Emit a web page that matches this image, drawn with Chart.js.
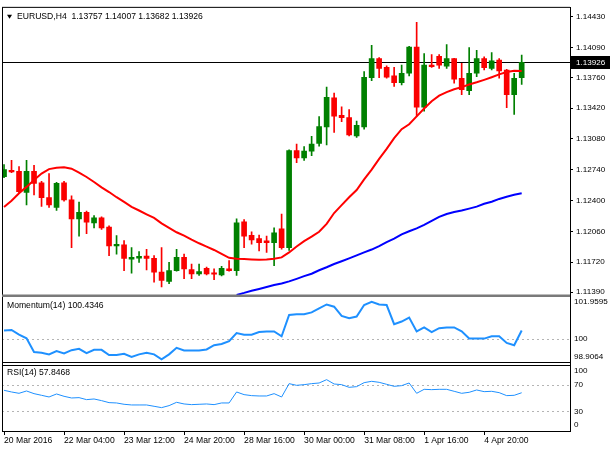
<!DOCTYPE html>
<html>
<head>
<meta charset="utf-8">
<title>EURUSD H4</title>
<script src="https://cdn.jsdelivr.net/npm/chart.js"></script>
<style>
  html, body { margin: 0; padding: 0; background: #fff; }
  #wrap { position: relative; width: 610px; height: 450px; }
</style>
</head>
<body>
<div id="wrap"><canvas id="chart" width="610" height="450"></canvas></div>
<script>
// EURUSD H4 candles
const symbol = 'EURUSD,H4';

const opens = [
  1.12665, 1.12734, 1.12723, 1.12491, 1.12723, 1.12597, 1.12433, 1.12324, 1.12597, 1.12407,
  1.12197, 1.12270, 1.12153, 1.12208, 1.12106, 1.11900, 1.11910, 1.11754, 1.11764, 1.11786,
  1.11761, 1.11609, 1.11507, 1.11627, 1.11772, 1.11638, 1.11590, 1.11652, 1.11601, 1.11579,
  1.11645, 1.11627, 1.12164, 1.12015, 1.11979, 1.11954, 1.11935, 1.12088, 1.11881, 1.12952,
  1.12872, 1.12945, 1.13032, 1.13213, 1.13534, 1.13341, 1.13316, 1.13115, 1.13213, 1.13758,
  1.13969, 1.13871, 1.13776, 1.13703, 1.13806, 1.14096, 1.13431, 1.13896, 1.13994, 1.13885,
  1.13969, 1.13751, 1.13613, 1.13806, 1.13969, 1.13860, 1.13951, 1.13842, 1.13569, 1.13757
];
const highs = [
  1.12796, 1.12843, 1.12774, 1.12843, 1.12788, 1.12611, 1.12698, 1.12600, 1.12611, 1.12451,
  1.12382, 1.12284, 1.12233, 1.12219, 1.12121, 1.12012, 1.11957, 1.11881, 1.11837, 1.11862,
  1.11791, 1.11881, 1.11718, 1.11862, 1.11808, 1.11699, 1.11699, 1.11666, 1.11645, 1.11674,
  1.11736, 1.12197, 1.12189, 1.12055, 1.12019, 1.12008, 1.12099, 1.12251, 1.12959, 1.13025,
  1.12995, 1.13109, 1.13327, 1.13653, 1.13588, 1.13436, 1.13406, 1.13279, 1.13823, 1.14114,
  1.13980, 1.13889, 1.13871, 1.13896, 1.14103, 1.14368, 1.14024, 1.14013, 1.14013, 1.14122,
  1.13972, 1.13915, 1.14089, 1.14060, 1.13987, 1.14035, 1.13969, 1.13850, 1.13806, 1.14007
];
const lows = [
  1.12654, 1.12709, 1.12480, 1.12353, 1.12462, 1.12335, 1.12324, 1.12292, 1.12393, 1.11881,
  1.12008, 1.12034, 1.12099, 1.12080, 1.11791, 1.11808, 1.11627, 1.11598, 1.11718, 1.11634,
  1.11500, 1.11445, 1.11481, 1.11620, 1.11536, 1.11536, 1.11573, 1.11579, 1.11525, 1.11568,
  1.11620, 1.11573, 1.11881, 1.11917, 1.11845, 1.11826, 1.11682, 1.11862, 1.11848, 1.12818,
  1.12843, 1.12897, 1.13000, 1.13014, 1.13152, 1.13272, 1.13115, 1.13098, 1.13188, 1.13725,
  1.13758, 1.13751, 1.13660, 1.13678, 1.13776, 1.13333, 1.13388, 1.13870, 1.13860, 1.13860,
  1.13697, 1.13569, 1.13569, 1.13769, 1.13842, 1.13842, 1.13751, 1.13425, 1.13352, 1.13682
];
const closes = [
  1.12742, 1.12717, 1.12499, 1.12723, 1.12589, 1.12433, 1.12353, 1.12589, 1.12407, 1.12197,
  1.12270, 1.12161, 1.12208, 1.12099, 1.11900, 1.11917, 1.11761, 1.11772, 1.11783, 1.11761,
  1.11609, 1.11518, 1.11627, 1.11772, 1.11645, 1.11590, 1.11616, 1.11590, 1.11587, 1.11652,
  1.11627, 1.12153, 1.12008, 1.11965, 1.11935, 1.11935, 1.12044, 1.11881, 1.12952, 1.12872,
  1.12945, 1.13025, 1.13218, 1.13540, 1.13333, 1.13316, 1.13126, 1.13232, 1.13762, 1.13969,
  1.13860, 1.13762, 1.13703, 1.13806, 1.14096, 1.13431, 1.13896, 1.13878, 1.13896, 1.13969,
  1.13740, 1.13624, 1.13806, 1.13969, 1.13867, 1.13943, 1.13831, 1.13569, 1.13751, 1.13926
];

// moving averages (red fast, blue slow)
const maFast = [
  1.12328, 1.12398, 1.12480, 1.12551, 1.12627, 1.12698, 1.12747, 1.12763, 1.12767, 1.12752,
  1.12709, 1.12660, 1.12605, 1.12546, 1.12494, 1.12437, 1.12385, 1.12331, 1.12290, 1.12248,
  1.12208, 1.12148, 1.12099, 1.12050, 1.12012, 1.11968, 1.11928, 1.11892, 1.11854, 1.11810,
  1.11767, 1.11758, 1.11754, 1.11750, 1.11747, 1.11750, 1.11758, 1.11772, 1.11827, 1.11892,
  1.11952, 1.12001, 1.12055, 1.12142, 1.12262, 1.12349, 1.12437, 1.12516, 1.12633, 1.12742,
  1.12861, 1.12970, 1.13090, 1.13188, 1.13243, 1.13330, 1.13417, 1.13497, 1.13559, 1.13597,
  1.13629, 1.13653, 1.13682, 1.13706, 1.13733, 1.13762, 1.13793, 1.13820, 1.13833, 1.13831
];
const maSlow = [
  null, null, null, null, null, null, null, null, null, null,
  null, null, null, null, null, null, null, null, null, null,
  null, null, null, null, null, null, null, null, null, null,
  null, 1.11358, 1.11380, 1.11404, 1.11424, 1.11445, 1.11467, 1.11483, 1.11507, 1.11535,
  1.11565, 1.11592, 1.11630, 1.11663, 1.11699, 1.11729, 1.11761, 1.11794, 1.11827, 1.11859,
  1.11897, 1.11941, 1.11979, 1.12026, 1.12061, 1.12093, 1.12132, 1.12175, 1.12219, 1.12251,
  1.12273, 1.12290, 1.12311, 1.12333, 1.12364, 1.12387, 1.12418, 1.12442, 1.12464, 1.12480
];

const momentum = [
  100.441, 100.467, 100.216, 100.022, 99.289, 99.252, 99.168, 99.341, 99.221, 99.393,
  99.462, 99.236, 99.409, 99.409, 99.132, 99.132, 99.200, 99.027, 99.168, 99.252,
  99.168, 98.9064, 99.168, 99.514, 99.378, 99.378, 99.378, 99.430, 99.655, 99.723,
  99.865, 100.299, 100.216, 100.216, 100.352, 100.388, 100.388, 100.127, 101.263, 101.294,
  101.294, 101.399, 101.609, 101.818, 101.698, 101.211, 101.085, 101.174, 101.787, 101.9595,
  101.818, 101.787, 100.771, 100.912, 101.122, 100.388, 100.598, 100.352, 100.561, 100.598,
  100.598, 100.388, 100.006, 100.006, 100.006, 100.127, 100.127, 99.776, 99.655, 100.4346
];

const rsi = [
  61.5, 59.0, 57.0, 60.5, 56.5, 54.0, 51.5, 56.0, 52.5, 50.0,
  50.5, 47.5, 48.5, 46.0, 43.0, 42.5, 40.5, 39.5, 39.5, 39.5,
  37.5, 35.5, 38.5, 43.5, 41.0, 40.0, 40.5, 41.0, 40.0, 42.5,
  42.5, 59.0, 55.0, 53.5, 53.0, 53.0, 56.5, 51.5, 71.5, 69.0,
  70.0, 71.5, 72.5, 77.5, 71.0, 70.0, 66.0, 67.0, 73.0, 75.0,
  73.5, 70.5, 67.5, 68.5, 72.5, 57.0, 63.0, 62.5, 63.0, 63.0,
  60.0, 57.0, 58.5, 62.0, 59.5, 60.0, 58.0, 53.5, 54.0, 57.8468
];

// axis ticks
const priceTicks = [1.14430, 1.14090, 1.13760, 1.13420, 1.13080, 1.12740, 1.12400, 1.12060, 1.11720, 1.11390];
const momTicks = [101.9595, 100, 98.9064];
const rsiTicks = [100, 70, 30, 0];
const momLevels = [100];
const rsiLevels = [70, 30];
const xTickBars = [0, 8, 16, 24, 32, 40, 48, 56, 64];
const xLabels = ['20 Mar 2016', '22 Mar 04:00', '23 Mar 12:00', '24 Mar 20:00', '28 Mar 16:00',
                 '30 Mar 00:00', '31 Mar 08:00', '1 Apr 16:00', '4 Apr 20:00'];

const UP = 'rgb(0,128,0)';
const DOWN = 'rgb(250,0,0)';
const FAMILY = "'Liberation Sans', Arial, sans-serif";
const FSIZE = 8.6;
const AXSIZE = 8.1;

const idx = opens.map((_, i) => i);
const barColors = idx.map(i => closes[i] >= opens[i] ? UP : DOWN);
const last = closes.length - 1;

function fmtSub(v) {
  return Number.isInteger(v) ? String(v) : v.toFixed(4);
}

// MT4 look: frames, bid line, panel captions, sub-window scale labels
const mt4Plugin = {
  id: 'mt4',
  beforeDatasetsDraw(chart) {
    const {ctx, chartArea: a, scales} = chart;
    ctx.save();
    // dotted levels
    ctx.strokeStyle = '#b4b4b4';
    ctx.lineWidth = 1;
    ctx.setLineDash([2, 3]);
    momLevels.forEach(v => {
      const y = Math.round(scales.mom.getPixelForValue(v)) + 0.5;
      ctx.beginPath(); ctx.moveTo(a.left, y); ctx.lineTo(a.right, y); ctx.stroke();
    });
    rsiLevels.forEach(v => {
      const y = Math.round(scales.rsi.getPixelForValue(v)) + 0.5;
      ctx.beginPath(); ctx.moveTo(a.left, y); ctx.lineTo(a.right, y); ctx.stroke();
    });
    ctx.setLineDash([]);
    // bid line
    const yb = Math.round(scales.y.getPixelForValue(closes[last])) + 0.5;
    ctx.strokeStyle = '#000';
    ctx.beginPath(); ctx.moveTo(a.left, yb); ctx.lineTo(a.right, yb); ctx.stroke();
    ctx.restore();
  },
  afterDraw(chart) {
    const {ctx, chartArea: a, scales} = chart;
    const y = scales.y, m = scales.mom, r = scales.rsi;
    ctx.save();
    // frames
    ctx.strokeStyle = '#000';
    ctx.lineWidth = 1;
    ctx.beginPath();
    ctx.moveTo(a.left + 0.5, a.top - 0.5); ctx.lineTo(a.left + 0.5, a.bottom);
    ctx.moveTo(a.left, a.top - 0.5); ctx.lineTo(a.right, a.top - 0.5);
    ctx.moveTo(a.left, Math.round(m.bottom) - 1.5); ctx.lineTo(a.right, Math.round(m.bottom) - 1.5);
    ctx.moveTo(a.left, Math.round(r.top) + 1.5); ctx.lineTo(a.right, Math.round(r.top) + 1.5);
    ctx.moveTo(a.left, a.bottom - 0.5); ctx.lineTo(a.right, a.bottom - 0.5);
    ctx.stroke();
    ctx.fillStyle = '#fff';
    ctx.fillRect(a.left + 1, Math.round(m.bottom) - 1, a.right - a.left - 1, 2);
    ctx.fillStyle = '#7a7a7a';
    ctx.fillRect(a.left, Math.round(y.bottom) - 0.5, a.right - a.left, 2.5);

    // captions
    ctx.fillStyle = '#000';
    ctx.textBaseline = 'middle';
    ctx.textAlign = 'left';
    ctx.font = FSIZE + 'px ' + FAMILY;
    const head = symbol + '  ' + [opens[last], highs[last], lows[last], closes[last]].map(v => v.toFixed(5)).join(' ');
    ctx.fillText(head, 17, a.top + 9);
    ctx.beginPath();
    ctx.moveTo(7, a.top + 7); ctx.lineTo(12, a.top + 7); ctx.lineTo(9.5, a.top + 11); ctx.closePath();
    ctx.fill();
    ctx.fillText('Momentum(14) ' + momentum[last].toFixed(4), a.left + 5, m.top + 11);
    ctx.fillText('RSI(14) ' + rsi[last].toFixed(4), a.left + 5, r.top + 9);

    // sub-window scale labels, kept inside their window like MT4 does
    ctx.font = AXSIZE + 'px ' + FAMILY;
    const lx = a.right + 4;
    momTicks.forEach(v => {
      const py = Math.min(Math.max(m.getPixelForValue(v), m.top + 7), m.bottom - 7);
      ctx.fillText(fmtSub(v), lx, py);
    });
    rsiTicks.forEach(v => {
      const py = Math.min(Math.max(r.getPixelForValue(v), r.top + 7), r.bottom - 7);
      ctx.fillText(fmtSub(v), lx, py);
    });

    // current price box
    const yb = Math.round(y.getPixelForValue(closes[last]));
    ctx.fillStyle = '#000';
    ctx.fillRect(a.right, yb - 6, chart.width - a.right, 13);
    ctx.fillStyle = '#fff';
    ctx.fillText(closes[last].toFixed(5), a.right + 6, yb + 0.5);
    ctx.restore();
  }
};

const font = {family: FAMILY, size: FSIZE};

new Chart(document.getElementById('chart'), {
  type: 'bar',
  data: {
    datasets: [
      {
        type: 'bar', label: 'wick',
        data: idx.map(i => ({x: i, y: [lows[i], highs[i]]})),
        backgroundColor: barColors, barThickness: 1, grouped: false,
        yAxisID: 'y', order: 5
      },
      {
        type: 'bar', label: 'body',
        data: idx.map(i => ({x: i, y: [opens[i], closes[i]]})),
        backgroundColor: barColors, barThickness: 5, minBarLength: 1, grouped: false,
        yAxisID: 'y', order: 4
      },
      {
        type: 'line', label: 'MA fast',
        data: idx.map(i => ({x: i, y: maFast[i]})),
        borderColor: 'rgb(255,0,0)', borderWidth: 2, pointRadius: 0, tension: 0,
        yAxisID: 'y', order: 2
      },
      {
        type: 'line', label: 'MA slow',
        data: idx.map(i => ({x: i, y: maSlow[i]})),
        borderColor: 'rgb(0,0,255)', borderWidth: 2, pointRadius: 0, tension: 0,
        yAxisID: 'y', order: 1
      },
      {
        type: 'line', label: 'Momentum(14)',
        data: idx.map(i => ({x: i, y: momentum[i]})),
        borderColor: 'rgb(30,144,255)', borderWidth: 2, pointRadius: 0, tension: 0,
        yAxisID: 'mom', order: 0
      },
      {
        type: 'line', label: 'RSI(14)',
        data: idx.map(i => ({x: i, y: rsi[i]})),
        borderColor: 'rgb(30,144,255)', borderWidth: 1, pointRadius: 0, tension: 0,
        yAxisID: 'rsi', order: 0
      }
    ]
  },
  options: {
    responsive: false,
    animation: false,
    layout: {padding: {left: 2, top: 2, right: 0, bottom: 0}},
    plugins: {legend: {display: false}, tooltip: {enabled: false}},
    scales: {
      x: {
        type: 'linear', min: -0.27, max: 75.44, offset: false,
        grid: {drawOnChartArea: false, drawTicks: true, tickLength: 3, color: '#000', offset: false},
        border: {display: false},
        ticks: {
          autoSkip: false, maxRotation: 0, minRotation: 0, align: 'start', padding: 0,
          color: '#000', font: font,
          callback: v => xLabels[xTickBars.indexOf(v)]
        },
        afterBuildTicks: s => { s.ticks = xTickBars.map(v => ({value: v})); },
        afterFit: s => { s.height = 18; }
      },
      y: {
        type: 'linear', position: 'right', stack: 'win', stackWeight: 291,
        min: 1.113581, max: 1.14528,
        grid: {drawOnChartArea: false, tickLength: 3, color: '#000'},
        border: {color: '#000'},
        ticks: {color: '#000', font: {family: FAMILY, size: AXSIZE}, padding: 3, callback: v => v.toFixed(5)},
        afterBuildTicks: s => { s.ticks = priceTicks.map(v => ({value: v})); },
        afterFit: s => { s.width = 40; }
      },
      mom: {
        axis: 'y', type: 'linear', position: 'right', stack: 'win', stackWeight: 70,
        min: 98.6603, max: 102.3261,
        grid: {display: false},
        border: {color: '#000'},
        ticks: {display: false},
        afterFit: s => { s.width = 40; }
      },
      rsi: {
        axis: 'y', type: 'linear', position: 'right', stack: 'win', stackWeight: 69,
        min: -1.1, max: 101.1,
        grid: {display: false},
        border: {color: '#000'},
        ticks: {display: false},
        afterFit: s => { s.width = 40; }
      }
    }
  },
  plugins: [mt4Plugin]
});
</script>
</body>
</html>
